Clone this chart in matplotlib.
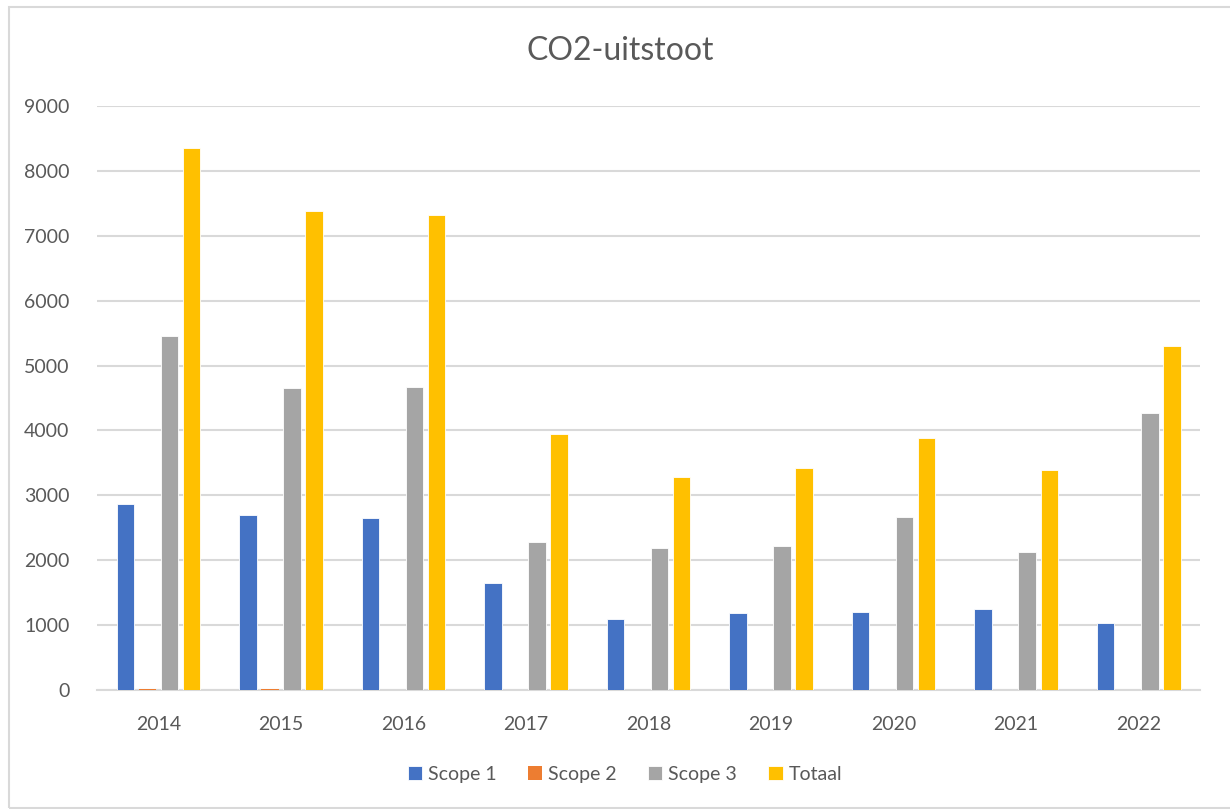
import matplotlib
matplotlib.use("Agg")
import matplotlib.pyplot as plt
import numpy as np
from matplotlib.patches import Rectangle

years = ["2014", "2015", "2016", "2017", "2018", "2019", "2020", "2021", "2022"]
scope1 = [2870, 2690, 2645, 1655, 1100, 1180, 1210, 1245, 1035]
scope2 = [20, 20, 0, 0, 0, 0, 0, 0, 0]
scope3 = [5455, 4660, 4670, 2280, 2185, 2225, 2660, 2130, 4265]
totaal = [8355, 7375, 7320, 3945, 3290, 3420, 3890, 3385, 5300]

series = [("Scope 1", scope1, "#4472C4", 0.6),
          ("Scope 2", scope2, "#ED7D31", 0.0),
          ("Scope 3", scope3, "#A5A5A5", 0.6),
          ("Totaal", totaal, "#FFC000", 0.6)]

plt.rcParams['font.family'] = ['Lato', 'DejaVu Sans']
fig = plt.figure(figsize=(12.3, 8.09), dpi=100)
ax = fig.add_axes([0.079, 0.147, 0.8966, 0.722])

x = np.arange(len(years))
offsets = [-0.27, -0.09, 0.09, 0.27]
w = 0.143
for (name, vals, col, lw), off in zip(series, offsets):
    ax.bar(x + off, vals, w, color=col, label=name, edgecolor='white', linewidth=lw, zorder=3)

ax.set_xlim(-0.5, len(years) - 0.5)
ax.set_ylim(0, 9000)
ax.set_yticks(np.arange(0, 9001, 1000))
ax.set_xticks(x)
ax.set_xticklabels(years)
ax.yaxis.grid(True, color='#D9D9D9', linewidth=1.5, zorder=0)
for s in ['top', 'right', 'left']:
    ax.spines[s].set_visible(False)
ax.spines['bottom'].set_color('#D9D9D9')
ax.spines['bottom'].set_linewidth(1.5)
ax.tick_params(axis='both', length=0, labelsize=14, colors='#595959')
ax.tick_params(axis='x', pad=19)
ax.tick_params(axis='y', pad=20)

fig.text(0.504, 0.937, "CO2-uitstoot", ha='center', va='center', fontsize=23, color='#595959')

leg = fig.legend(loc='center', bbox_to_anchor=(0.508, 0.043), ncol=4, frameon=False,
                 fontsize=14, handlelength=0.75, handleheight=0.75, handletextpad=0.3,
                 columnspacing=1.6, labelcolor='#595959')

fig.patches.append(Rectangle((9/1230, 1/809), 1 - 9/1230 + 0.01, 1 - 8/809, transform=fig.transFigure,
                             fill=False, edgecolor='#D9D9D9', linewidth=1.5, zorder=0))

fig.savefig("out.png", dpi=100)
